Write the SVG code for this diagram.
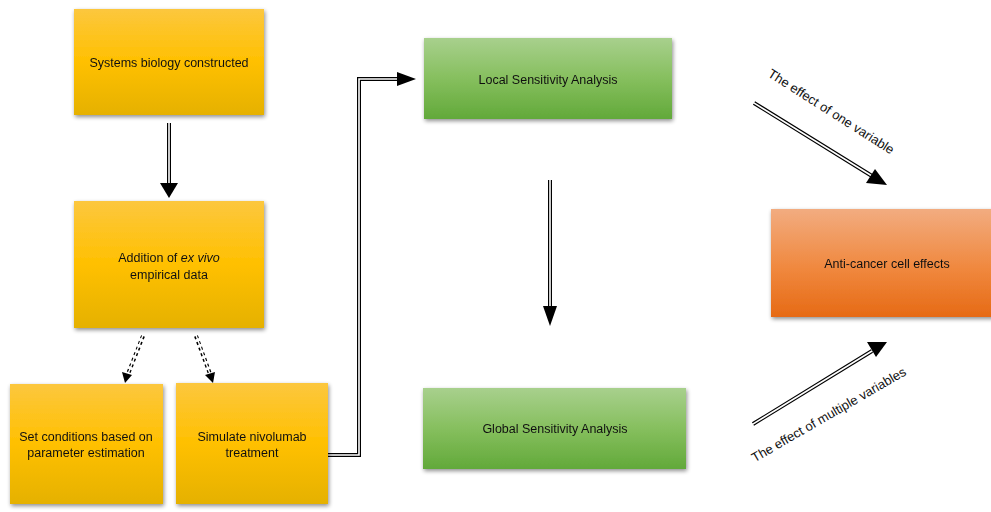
<svg xmlns="http://www.w3.org/2000/svg" width="991" height="512" viewBox="0 0 991 512">
<defs>
<linearGradient id="gy" x1="0" y1="0" x2="0" y2="1">
<stop offset="0" stop-color="#FCC73E"/><stop offset="0.5" stop-color="#FFC000"/><stop offset="1" stop-color="#E5B100"/>
</linearGradient>
<linearGradient id="gg" x1="0" y1="0" x2="0" y2="1">
<stop offset="0" stop-color="#A8D08D"/><stop offset="0.5" stop-color="#86BF5E"/><stop offset="1" stop-color="#62A93A"/>
</linearGradient>
<linearGradient id="go" x1="0" y1="0" x2="0" y2="1">
<stop offset="0" stop-color="#F2AC80"/><stop offset="0.55" stop-color="#F0883E"/><stop offset="1" stop-color="#E66A15"/>
</linearGradient>
<filter id="sh" x="-10%" y="-10%" width="125%" height="130%">
<feGaussianBlur in="SourceAlpha" stdDeviation="2"/>
<feOffset dx="1" dy="2" result="b"/>
<feComponentTransfer><feFuncA type="linear" slope="0.45"/></feComponentTransfer>
<feMerge><feMergeNode/><feMergeNode in="SourceGraphic"/></feMerge>
</filter>
</defs>
<style>
text{font-family:"Liberation Sans",Arial,sans-serif;font-size:12.5px;fill:#111;text-anchor:middle}
.lab{font-size:13px}
.outer{fill:none;stroke:#000;stroke-width:4}
.inner{fill:none;stroke:#fff;stroke-width:1.6}
.douter{fill:none;stroke:#000;stroke-width:4;stroke-dasharray:3 3}
.dinner{fill:none;stroke:#fff;stroke-width:1.4}
</style>
<rect width="991" height="512" fill="#fff"/>

<g id="connectors">
<line x1="169" y1="123" x2="169" y2="184" class="outer"/>
<line x1="169" y1="122" x2="169" y2="184" class="inner"/>
<path d="M160,183 L178,183 L169,198 z" fill="#000"/>
<line x1="143" y1="336" x2="128" y2="374" class="douter"/>
<line x1="143" y1="335" x2="128" y2="374" class="dinner"/>
<path d="M122,372 L132,375 L125,383 z" fill="#000"/>
<line x1="196" y1="336" x2="210" y2="374" class="douter"/>
<line x1="196" y1="335" x2="210" y2="374" class="dinner"/>
<path d="M205,375 L215,372 L213,383 z" fill="#000"/>
<path d="M328,455 L359,455 L359,79 L399,79" class="outer"/>
<path d="M328,455 L359,455 L359,79 L400,79" class="inner"/>
<path d="M397,72 L416,79 L397,86 z" fill="#000"/>
<line x1="550" y1="180" x2="550" y2="308" class="outer"/>
<line x1="550" y1="179" x2="550" y2="308" class="inner"/>
<path d="M543,306 L557,306 L550,326 z" fill="#000"/>
<line x1="754" y1="103" x2="872" y2="176" class="outer"/>
<line x1="753" y1="102.4" x2="872" y2="176" class="inner"/>
<path d="M866,183 L875,169 L887,185 z" fill="#000"/>
<line x1="753" y1="424" x2="872" y2="351" class="outer"/>
<line x1="752" y1="424.6" x2="872" y2="351" class="inner"/>
<path d="M867,342 L876,357 L887,342 z" fill="#000"/>
</g>

<g id="n1" filter="url(#sh)">
<rect x="74" y="9" width="190" height="106" fill="url(#gy)"/>
<text x="169" y="67">Systems biology constructed</text>
</g>
<g id="n2" filter="url(#sh)">
<rect x="74" y="201" width="190" height="127" fill="url(#gy)"/>
<text x="169" y="262">Addition of <tspan font-style="italic">ex vivo</tspan></text>
<text x="169" y="279">empirical data</text>
</g>
<g id="n3" filter="url(#sh)">
<rect x="10" y="384" width="153" height="120" fill="url(#gy)"/>
<text x="86" y="441">Set conditions based on</text>
<text x="86" y="457">parameter estimation</text>
</g>
<g id="n4" filter="url(#sh)">
<rect x="176" y="383" width="152" height="121" fill="url(#gy)"/>
<text x="252" y="441">Simulate nivolumab</text>
<text x="252" y="457">treatment</text>
</g>
<g id="n5" filter="url(#sh)">
<rect x="424" y="38" width="248" height="81" fill="url(#gg)"/>
<text x="548" y="84">Local Sensitivity Analysis</text>
</g>
<g id="n6" filter="url(#sh)">
<rect x="423" y="388" width="263" height="81" fill="url(#gg)"/>
<text x="555" y="433">Global Sensitivity Analysis</text>
</g>
<g id="n7" filter="url(#sh)">
<rect x="771" y="209" width="224" height="108" fill="url(#go)"/>
<text x="887" y="268">Anti-cancer cell effects</text>
</g>

<g id="labels">
<text class="lab" transform="translate(831,112) rotate(32.5)" y="4">The effect of one variable</text>
<text class="lab" transform="translate(829,415) rotate(-30)" y="4">The effect of multiple variables</text>
</g>
</svg>
